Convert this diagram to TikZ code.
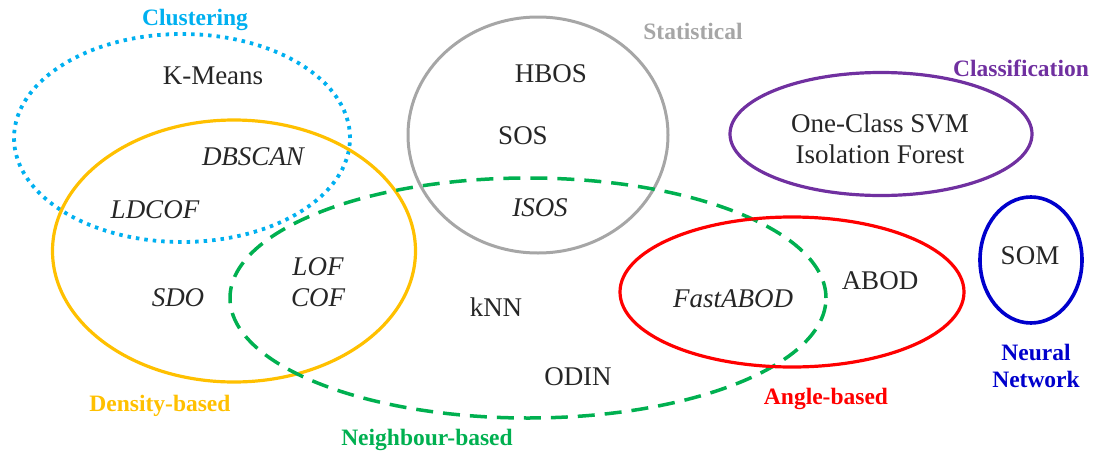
\documentclass[tikz,border=0pt]{standalone}
\usepackage{fontspec}
\setmainfont{Liberation Serif}
\usetikzlibrary{shapes.geometric}
\definecolor{clublue}{HTML}{00B0F0}
\definecolor{densorange}{HTML}{FFC000}
\definecolor{neigreen}{HTML}{00B050}
\definecolor{statgrey}{HTML}{A6A6A6}
\definecolor{anglered}{HTML}{FF0000}
\definecolor{clspurple}{HTML}{7030A0}
\definecolor{nnblue}{HTML}{0000CC}
\definecolor{txtgrey}{HTML}{262626}
\begin{document}
\begin{tikzpicture}
[x=1pt,y=-1pt,
set/.style = {draw, ellipse, inner sep=0pt, line width=3.2pt},
alg/.style = {text=txtgrey, font=\fontsize{27}{31}\selectfont, align=center},
ialg/.style = {alg, font=\fontsize{27}{31}\selectfont\itshape},
grp/.style = {font=\fontsize{23.5}{26}\selectfont\bfseries, align=center},]
\useasboundingbox (0,0) rectangle (1096,453);
% groups
\node (clu) at (182,138)[set, draw=clublue, line width=3.8pt, dash pattern=on 3.5pt off 5pt, minimum width=336pt, minimum height=208pt] {};
\node (den) at (234,251)[set, draw=densorange, minimum width=363pt, minimum height=262pt] {};
\node (sta) at (538,135)[set, draw=statgrey, line width=3pt, minimum width=260pt, minimum height=236pt] {};
\node (nei) at (528,298)[set, draw=neigreen, line width=3.5pt, dash pattern=on 17pt off 10pt, minimum width=596pt, minimum height=240pt] {};
\node (ang) at (792,292)[set, draw=anglered, minimum width=344pt, minimum height=150pt] {};
\node (cls) at (881,134)[set, draw=clspurple, minimum width=302pt, minimum height=123pt] {};
\node (nn) at (1031,260)[set, draw=nnblue, line width=3.6pt, minimum width=102pt, minimum height=126pt] {};
% group labels
\node (lclu) at (195,20)[grp, text=clublue] {Clustering};
\node (lden) at (160,406)[grp, text=densorange] {Density-based};
\node (lsta) at (693,31)[grp, text=statgrey] {Statistical};
\node (lnei) at (427,440)[grp, text=neigreen] {Neighbour-based};
\node (lang) at (826,399)[grp, text=anglered] {Angle-based};
\node (lcls) at (1021,68)[grp, text=clspurple] {Classification};
\node (lnn) at (1036,366)[grp, text=nnblue, font=\fontsize{23.5}{27}\selectfont\bfseries] {Neural\\Network};
% algorithms
\node (kmeans) at (213,76)[alg] {K-Means};
\node (dbscan) at (253,157)[ialg] {DBSCAN};
\node (ldcof) at (155,210)[ialg] {LDCOF};
\node (sdo) at (178,298)[ialg] {SDO};
\node (lof) at (318,267)[ialg] {LOF};
\node (cof) at (318,298)[ialg] {COF};
\node (hbos) at (551,74)[alg] {HBOS};
\node (sos) at (523,136)[alg] {SOS};
\node (isos) at (540,208)[ialg] {ISOS};
\node (knn) at (496,307)[alg] {kNN};
\node (odin) at (578,377)[alg] {ODIN};
\node (fabod) at (733,299)[ialg] {FastABOD};
\node (abod) at (880,281)[alg] {ABOD};
\node (ocsvm) at (880,139)[alg] {One-Class SVM\\Isolation Forest};
\node (som) at (1030,256)[alg] {SOM};
\end{tikzpicture}
\end{document}
